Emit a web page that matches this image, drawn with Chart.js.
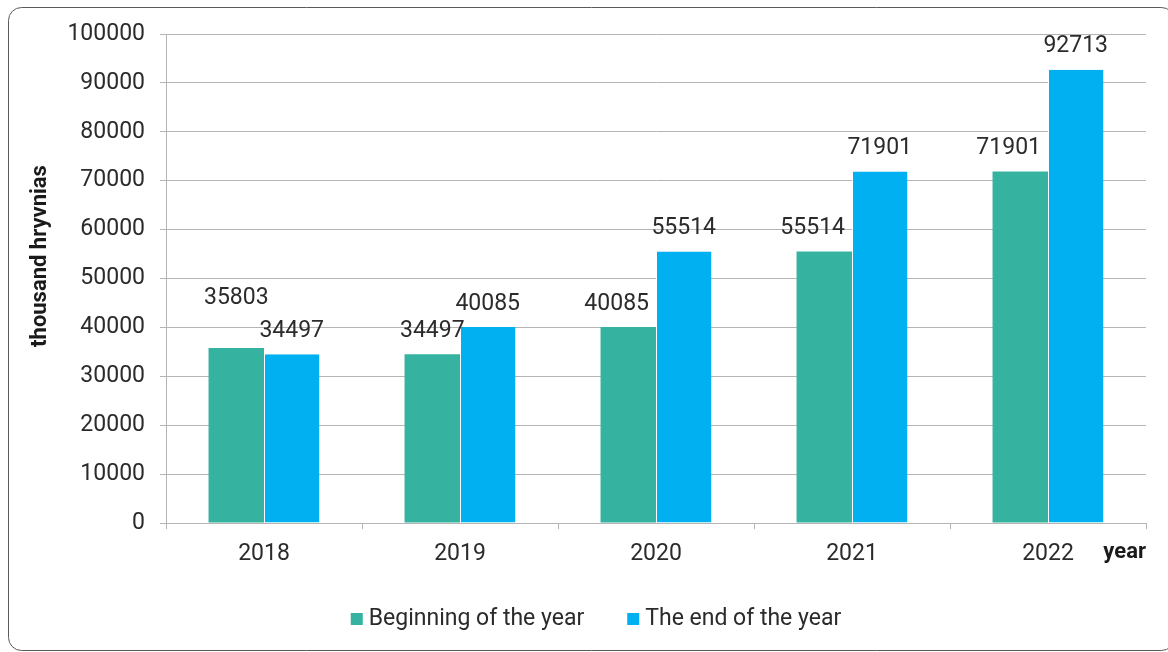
<!DOCTYPE html>
<html>
<head>
<meta charset="utf-8">
<title>Balance at the beginning and end of the year</title>
<script src="https://cdn.jsdelivr.net/npm/chart.js@4.4.1/dist/chart.umd.min.js"></script>
<style>
  html, body { margin: 0; padding: 0; background: #fff; overflow: hidden; }
  canvas { display: block; }
</style>
</head>
<body>
<canvas id="chart" width="1168" height="652"></canvas>
<script>
// Values in thousand hryvnias
const years = ['2018', '2019', '2020', '2021', '2022'];
const beginningOfYear = [35803, 34497, 40085, 55514, 71901];
const endOfYear = [34497, 40085, 55514, 71901, 92713];
const seriesNames = ['Beginning of the year', 'The end of the year'];
const yAxisMax = 100000;
const yAxisStep = 10000;

const GREEN = '#35b3a0';
const BLUE = '#00b0f0';
const TEXT = '#2b2b2b';
const TITLE_COLOR = '#1a1a1a';
const GRID = '#b5b5b5';
const FONT = 'Roboto';
const SIZE = 23;

// Rounded frame around the whole figure
const framePlugin = {
  id: 'frame',
  beforeDraw(chart) {
    const ctx = chart.ctx;
    ctx.save();
    ctx.fillStyle = '#fff';
    ctx.fillRect(0, 0, chart.width, chart.height);
    ctx.strokeStyle = '#5a5a5a';
    ctx.lineWidth = 1;
    ctx.beginPath();
    ctx.roundRect(8.5, 7.5, 1166, 643, 13);
    ctx.stroke();
    ctx.restore();
  }
};

// Value labels above the bars, nudged apart where they would collide
const valueLabelPlugin = {
  id: 'valueLabels',
  afterDatasetsDraw(chart) {
    const ctx = chart.ctx;
    const m0 = chart.getDatasetMeta(0);
    const m1 = chart.getDatasetMeta(1);
    ctx.save();
    ctx.font = `${SIZE}px ${FONT}`;
    ctx.fillStyle = TEXT;
    ctx.textAlign = 'center';
    ctx.textBaseline = 'middle';
    years.forEach((_, i) => {
      const a = m0.data[i], b = m1.data[i];
      const va = chart.data.datasets[0].data[i];
      const vb = chart.data.datasets[1].data[i];
      const ta = String(va), tb = String(vb);
      const wa = ctx.measureText(ta).width, wb = ctx.measureText(tb).width;
      let ax = a.x, ay = a.y - 23, bx = b.x, by = b.y - 23;
      // a label sitting beside a taller neighbouring bar slides left of it
      const bLeft = b.x - b.width / 2;
      if (ay - 10 > b.y && ax + wa / 2 > bLeft - 7) ax = bLeft - 7 - wa / 2;
      // two labels overlapping each other: lift the larger value
      if (ax + wa / 2 > bx - wb / 2 && Math.abs(ay - by) < 22) {
        if (va >= vb) ay = by - 33; else by = ay - 33;
      }
      ctx.fillText(ta, ax, ay);
      ctx.fillText(tb, bx, by);
    });
    ctx.restore();
  }
};

// Axis titles and the legend row
const annotationPlugin = {
  id: 'annotations',
  afterDraw(chart) {
    const ctx = chart.ctx;
    const area = chart.chartArea;
    ctx.save();
    ctx.fillStyle = TITLE_COLOR;

    // y-axis title
    ctx.font = `bold 22px ${FONT}`;
    ctx.textAlign = 'center';
    ctx.textBaseline = 'middle';
    ctx.translate(40, 256);
    ctx.rotate(-Math.PI / 2);
    ctx.fillText('thousand hryvnias', 0, 0);
    ctx.setTransform(1, 0, 0, 1, 0, 0);

    // x-axis title
    ctx.font = `bold 22px ${FONT}`;
    ctx.textAlign = 'right';
    ctx.fillText('year', area.right, 552);

    // legend
    ctx.fillStyle = TEXT;
    ctx.font = `${SIZE}px ${FONT}`;
    ctx.textAlign = 'left';
    const colors = [GREEN, BLUE];
    const box = 12, gap = 6, itemGap = 43;
    const widths = seriesNames.map(n => ctx.measureText(n).width);
    const total = widths.reduce((s, w) => s + box + gap + w, 0) + itemGap * (seriesNames.length - 1);
    let x = 596 - total / 2;
    const y = 619;
    seriesNames.forEach((n, k) => {
      ctx.fillStyle = colors[k];
      ctx.fillRect(x, y - box / 2, box, box);
      ctx.fillStyle = TEXT;
      ctx.fillText(n, x + box + gap, y);
      x += box + gap + widths[k] + itemGap;
    });
    ctx.restore();
  }
};

new Chart(document.getElementById('chart'), {
  type: 'bar',
  data: {
    labels: years,
    datasets: [
      {
        label: seriesNames[0],
        data: beginningOfYear,
        backgroundColor: GREEN,
        borderWidth: 0,
        categoryPercentage: 0.566,
        barPercentage: 1.0
      },
      {
        label: seriesNames[1],
        data: endOfYear,
        backgroundColor: BLUE,
        borderColor: '#ffffff',
        borderWidth: { left: 1, right: 0, top: 0, bottom: 0 },
        borderSkipped: false,
        categoryPercentage: 0.566,
        barPercentage: 1.0
      }
    ]
  },
  options: {
    responsive: false,
    animation: false,
    layout: { padding: { left: 0, right: 22, top: 34, bottom: 0 } },
    plugins: {
      legend: { display: false },
      tooltip: { enabled: false }
    },
    scales: {
      x: {
        grid: { drawOnChartArea: false, offset: true, tickLength: 6, color: GRID },
        border: { color: GRID },
        ticks: { font: { family: FONT, size: SIZE }, color: TEXT, padding: 11, maxRotation: 0 },
        afterFit(scale) { scale.height = 129; }
      },
      y: {
        min: 0,
        max: yAxisMax,
        grid: { color: GRID, tickLength: 6 },
        border: { color: GRID },
        ticks: {
          stepSize: yAxisStep,
          font: { family: FONT, size: SIZE },
          color: TEXT,
          padding: 15,
          callback: v => String(v)
        },
        afterFit(scale) { scale.width = 166; }
      }
    }
  },
  plugins: [framePlugin, valueLabelPlugin, annotationPlugin]
});
</script>
</body>
</html>
